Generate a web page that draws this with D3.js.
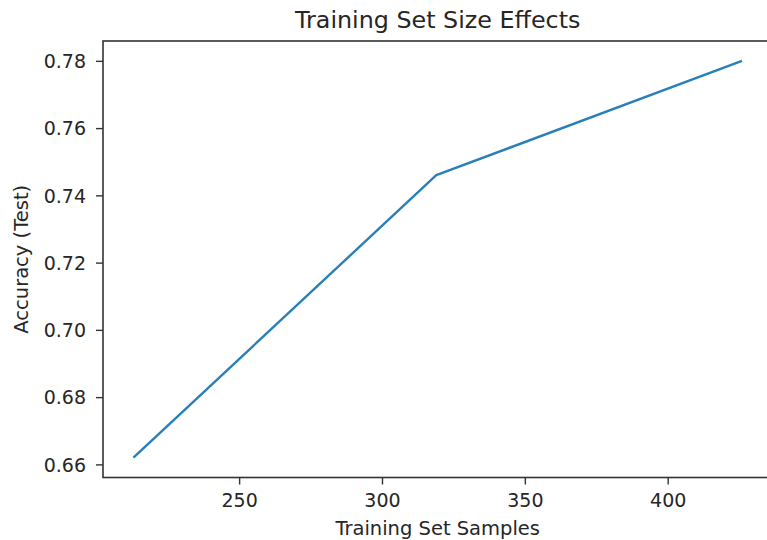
<!DOCTYPE html>
<html>
<head>
<meta charset="utf-8">
<script src="https://cdn.jsdelivr.net/npm/d3@7"></script>
<style>
  body { margin: 0; background: #fff; }
  svg { display: block; font-family: "DejaVu Sans", sans-serif; }
  .tick text { fill: #262626; }
</style>
</head>
<body>
<div id="vis"></div>
<script>
const samples = [213, 319, 426];
const accuracy = [0.662, 0.746, 0.780];
const xTicks = [250, 300, 350, 400];
const yTicks = [0.66, 0.68, 0.70, 0.72, 0.74, 0.76, 0.78];

const W = 767, H = 540;
const plot = { left: 103, top: 41, right: 772.4, bottom: 477.5 };

const svg = d3.select("#vis").append("svg")
  .attr("width", W)
  .attr("height", H);

// matplotlib-like 5% margins
const pad = (lo, hi) => [lo - (hi - lo) * 0.05, hi + (hi - lo) * 0.05];

const x = d3.scaleLinear()
  .domain(pad(d3.min(samples), d3.max(samples)))
  .range([plot.left, plot.right]);

const y = d3.scaleLinear()
  .domain(pad(d3.min(accuracy), d3.max(accuracy)))
  .range([plot.bottom, plot.top]);

const data = samples.map((s, i) => ({ s, a: accuracy[i] }));

// line
svg.append("path")
  .datum(data)
  .attr("fill", "none")
  .attr("stroke", "#2a7fb8")
  .attr("stroke-width", 2.4)
  .attr("stroke-linejoin", "round")
  .attr("d", d3.line().x(d => x(d.s)).y(d => y(d.a)));

// axes
const xAxis = svg.append("g")
  .attr("transform", `translate(0,${plot.bottom})`)
  .call(d3.axisBottom(x).tickValues(xTicks).tickSize(7).tickPadding(9).tickSizeOuter(0));

const yAxis = svg.append("g")
  .attr("transform", `translate(${plot.left},0)`)
  .call(d3.axisLeft(y).tickValues(yTicks).tickFormat(d3.format(".2f")).tickSize(7).tickPadding(10).tickSizeOuter(0));

[xAxis, yAxis].forEach(g => {
  g.select(".domain").remove();
  g.selectAll(".tick line").attr("stroke", "#333").attr("stroke-width", 1.4);
  g.selectAll(".tick text").attr("font-size", 19).attr("font-family", "DejaVu Sans");
});
xAxis.selectAll(".tick text").attr("dy", "0.71em");
yAxis.selectAll(".tick text").attr("dy", "0.36em");

// spines (box)
svg.append("rect")
  .attr("x", plot.left)
  .attr("y", plot.top)
  .attr("width", plot.right - plot.left)
  .attr("height", plot.bottom - plot.top)
  .attr("fill", "none")
  .attr("stroke", "#333")
  .attr("stroke-width", 1.6);

// title and labels
svg.append("text")
  .attr("x", (plot.left + plot.right) / 2)
  .attr("y", 28)
  .attr("text-anchor", "middle")
  .attr("font-size", 23.8)
  .attr("fill", "#262626")
  .text("Training Set Size Effects");

svg.append("text")
  .attr("x", (plot.left + plot.right) / 2)
  .attr("y", 535)
  .attr("text-anchor", "middle")
  .attr("font-size", 19.5)
  .attr("fill", "#262626")
  .text("Training Set Samples");

svg.append("text")
  .attr("transform", "rotate(-90)")
  .attr("x", -(plot.top + plot.bottom) / 2)
  .attr("y", 28)
  .attr("text-anchor", "middle")
  .attr("font-size", 19.5)
  .attr("fill", "#262626")
  .text("Accuracy (Test)");
</script>
</body>
</html>
